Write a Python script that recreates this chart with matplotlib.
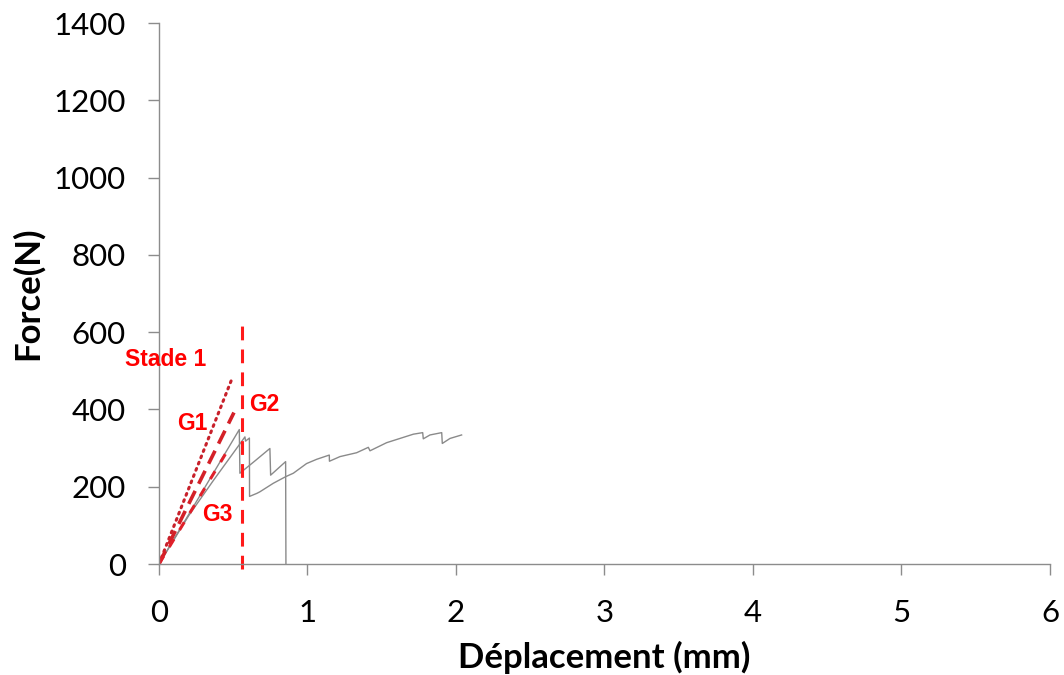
import numpy as np
import matplotlib
matplotlib.use("Agg")
import matplotlib.pyplot as plt

# Essai 1 : montee lineaire, chutes successives, rupture vers 0.85 mm
dep_a = [0.0, 0.20, 0.40, 0.541, 0.545, 0.65, 0.747, 0.752, 0.853, 0.855]
force_a = [0.0, 128, 257, 348, 235, 268, 299, 230, 265, 0.0]

# Essai 2 : pic puis plateau jusqu'a 2 mm
dep_b = [0.0, 0.20, 0.366, 0.579, 0.583, 0.609, 0.610, 0.635, 0.660, 0.680, 0.770,
         0.853, 0.905, 0.994, 1.062, 1.147, 1.148, 1.219, 1.331, 1.410, 1.421,
         1.533, 1.623, 1.713, 1.776, 1.780, 1.825, 1.904, 1.908, 1.960, 2.038]
force_b = [0.0, 125, 216, 329, 318, 326, 175, 179, 183, 187, 209,
           226, 235, 260, 271, 282, 266, 278, 288, 302, 293,
           314, 325, 336, 340, 324, 334, 340, 312, 325, 334]

# Droites de rigidite
stade1_x = [0.0, 0.489]
stade1_y = [0.0, 477]
g1_x = [0.0, 0.505]
g1_y = [0.0, 392]
g3_x = [0.0, 0.475]
g3_y = [0.0, 302]
limite_x = 0.56

fig = plt.figure(figsize=(10.64, 6.75), dpi=100)
ax = fig.add_axes([0.1494, 0.1644, 0.8374, 0.8015])

ax.plot(dep_a, force_a, color="#8a8a8a", lw=1.0)
ax.plot(dep_b, force_b, color="#8a8a8a", lw=1.0)

ax.plot(stade1_x, stade1_y, color="#c8202a", lw=2.2, linestyle=(0, (0.6, 1.6)),
        dash_capstyle="round")
ax.plot(g1_x, g1_y, color="#d42027", lw=2.6, linestyle=(0, (4, 2.2)))
ax.plot(g3_x, g3_y, color="#e0202a", lw=2.2, linestyle=(0, (3, 3.5)))
ax.plot([limite_x, limite_x], [-12, 615], color="#ff1a1a", lw=2.2,
        linestyle=(0, (4.5, 3)), clip_on=False)

lab = dict(color="#ff0000", fontweight="bold", fontsize=16.5, family="Liberation Sans",
           ha="center", va="center")
ax.text(0.047, 528, "Stade 1", **lab)
ax.text(0.226, 364, "G1", **lab)
ax.text(0.712, 414, "G2", **lab)
ax.text(0.394, 127, "G3", **lab)

ax.set_xlim(0, 6)
ax.set_ylim(0, 1400)
ax.set_xticks(range(0, 7))
ax.set_yticks(range(0, 1401, 200))

for s in ["top", "right"]:
    ax.spines[s].set_visible(False)
for s in ["left", "bottom"]:
    ax.spines[s].set_color("#8c8c8c")
    ax.spines[s].set_linewidth(1.0)
ax.tick_params(direction="out", length=8, width=1.0, color="#8c8c8c",
               labelsize=22.5, labelcolor="black")
ax.tick_params(axis="y", pad=16)
ax.tick_params(axis="x", pad=17)
for t in ax.get_xticklabels() + ax.get_yticklabels():
    t.set_family("Lato")

ax.set_xlabel("Déplacement (mm)", fontsize=25, fontweight="bold", family="Lato",
              labelpad=10)
ax.set_ylabel("Force(N)", fontsize=25, fontweight="bold", family="Lato", labelpad=7)

fig.savefig("out.png", dpi=100)
